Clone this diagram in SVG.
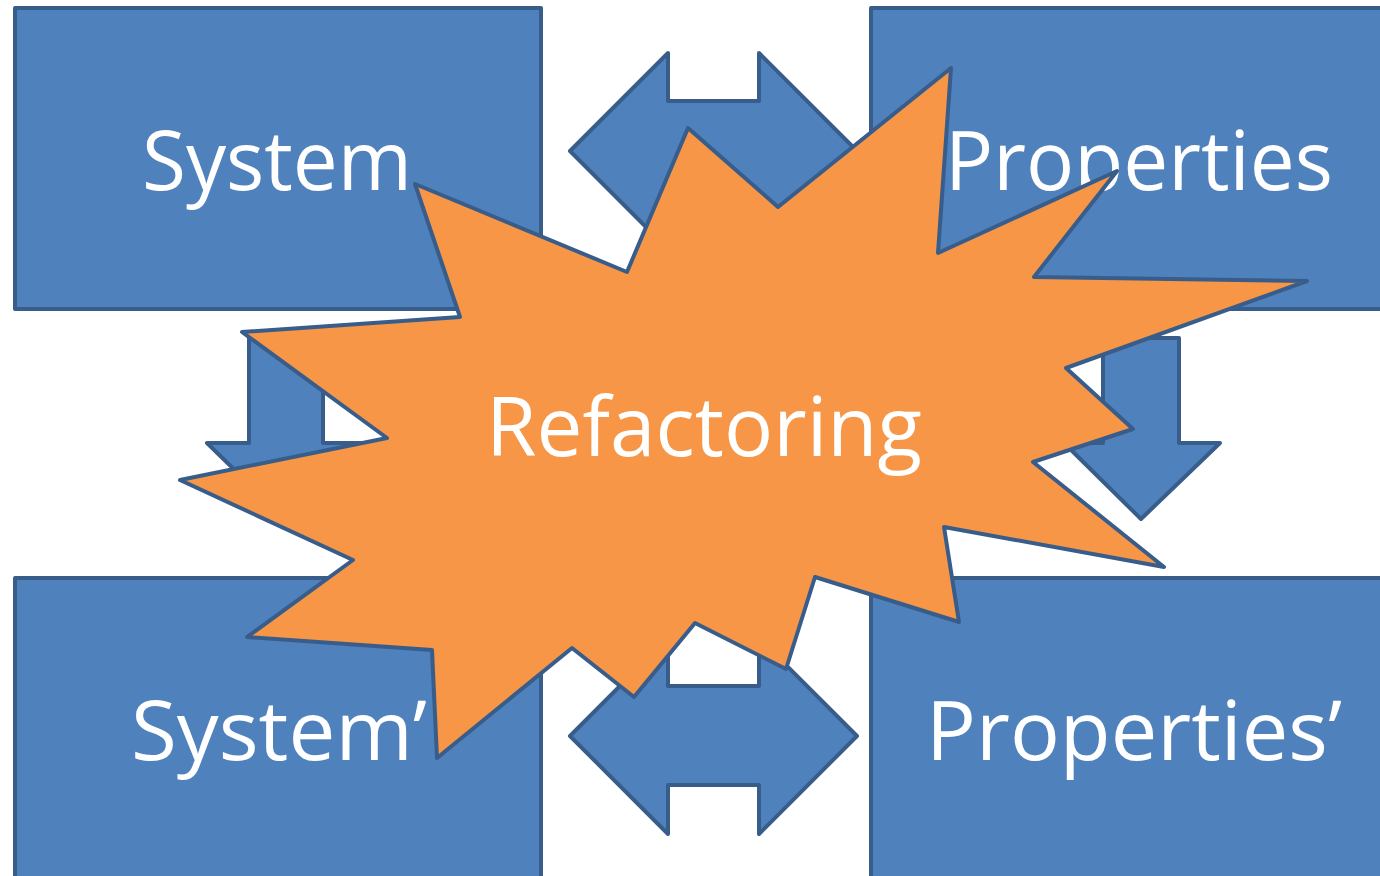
<svg xmlns="http://www.w3.org/2000/svg" width="1380" height="876" viewBox="0 0 1380 876">
<style>
.box{fill:#4F81BD;stroke:#385D8A;stroke-width:4;stroke-linejoin:round}
.arr{fill:#4F81BD;stroke:#385D8A;stroke-width:4;stroke-linejoin:round}
.burst{fill:#F79646;stroke:#385D8A;stroke-width:4;stroke-linejoin:round}
.lbl{font-family:"Open Sans","Noto Sans","Liberation Sans",sans-serif;font-size:82px;fill:#FFFFFF}
</style>
<rect width="1380" height="876" fill="#FFFFFF"/>
<g id="node-system">
<rect class="box" x="15" y="8" width="526" height="301"/>
<text class="lbl" x="142" y="190" textLength="270" lengthAdjust="spacingAndGlyphs">System</text>
</g>
<g id="node-properties">
<rect class="box" x="871" y="8" width="520" height="301"/>
<text class="lbl" x="945" y="190" textLength="388" lengthAdjust="spacingAndGlyphs">Properties</text>
</g>
<g id="node-system-prime">
<rect class="box" x="15" y="578" width="526" height="310"/>
<text class="lbl" x="131" y="760" textLength="296" lengthAdjust="spacingAndGlyphs">System’</text>
</g>
<g id="node-properties-prime">
<rect class="box" x="871" y="578" width="520" height="310"/>
<text class="lbl" x="926" y="760" textLength="416" lengthAdjust="spacingAndGlyphs">Properties’</text>
</g>
<g id="connectors">
<polygon class="arr" points="570,151 668,53 668,101 759,101 759,53 857,151 759,249 759,201 668,201 668,249"/>
<polygon class="arr" points="570,736 668,638 668,686 759,686 759,638 857,736 759,834 759,785 668,785 668,834"/>
<polygon class="arr" points="249,338 323,338 323,443 365,443 286,520 207,443 249,443"/>
<polygon class="arr" points="1103,338 1179,338 1179,443 1220,443 1141,519 1064,443 1103,443"/>
</g>
<g id="node-refactoring">
<polygon class="burst" points="951,68 938,253 1117,171 1034,277 1307,281 1066,368 1133,429 1033,462 1164,567 944,527 959,622 815,577 786,669 695,623 634,697 572,648 437,758 432,650 247,637 353,560 180,480 387,438 242,332 460,317 415,184 627,272 688,128 778,207"/>
<text class="lbl" x="486" y="456" textLength="436" lengthAdjust="spacingAndGlyphs">Refactoring</text>
</g>
</svg>
